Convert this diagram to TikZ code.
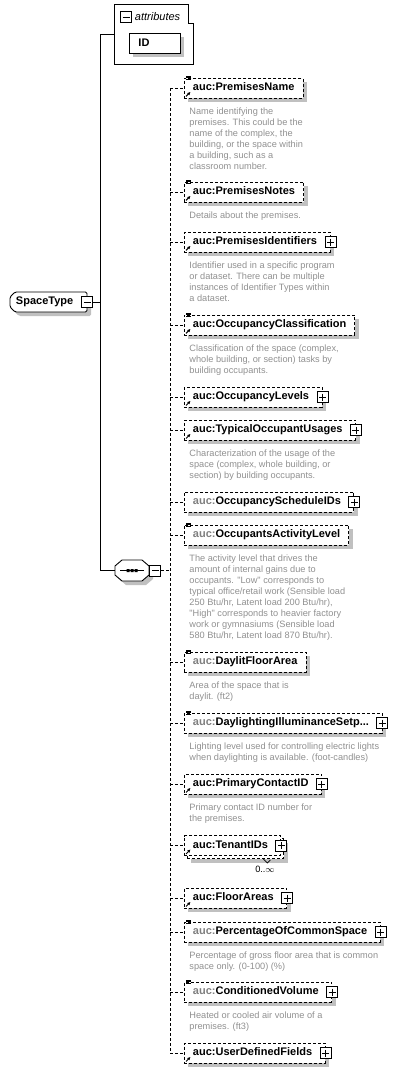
\documentclass[tikz,border=0pt]{standalone}
\usepackage{fontspec}
\setsansfont{Liberation Sans}
\usepackage{tikz}
\usetikzlibrary{arrows.meta}
\usetikzlibrary{shadows}
\definecolor{shadowgray}{RGB}{192,192,192}
\definecolor{docgray}{RGB}{144,144,144}
\definecolor{pfxgray}{RGB}{128,128,128}
\newcommand{\pfx}{{\color{pfxgray}auc:}}

\begin{document}
\begin{tikzpicture}[x=1pt,y=-1pt,line width=0.9pt,
    shade4/.style={drop shadow={shadow xshift=4pt,shadow yshift=-4pt,opacity=1,fill=shadowgray}},
    namefont/.style={font=\sffamily\fontsize{11}{13}\selectfont\bfseries},
    elbase/.style={draw,dash pattern=on 3pt off 2pt,fill=white,anchor=west,minimum height=20pt,
      inner xsep=8.5pt,inner ysep=0pt,text height=8pt,text depth=2.5pt,namefont},
    elem/.style={elbase,shade4},
    doc/.style={anchor=north west,align=left,inner sep=0pt,text=docgray,font=\sffamily\fontsize{9.2}{11}\selectfont},
    plusbox/.style={draw,solid,fill=white,line width=1pt,minimum size=11pt,inner sep=0pt,
      path picture={\draw[line width=0.9pt] ([xshift=2pt]path picture bounding box.west) -- ([xshift=-2pt]path picture bounding box.east)
        ([yshift=-2pt]path picture bounding box.north) -- ([yshift=2pt]path picture bounding box.south);}},
    minusbox/.style={draw,solid,fill=white,line width=1pt,minimum size=11pt,inner sep=0pt,
      path picture={\draw[line width=0.9pt] ([xshift=2pt]path picture bounding box.west) -- ([xshift=-2pt]path picture bounding box.east);}},
    link/.style={dash pattern=on 3pt off 2pt},
    docmark/.style={line width=0.75pt},
    refmark/.style={line width=1pt,-{Latex[length=3.2pt,width=3.4pt]}}]
  \useasboundingbox (0,0) rectangle (400,1073);
  % attributes
  \node[minimum width=78pt,minimum height=59pt] (attr) at (154,34.5) {};
  \draw[fill=white] (attr.north west) -- ([xshift=-5pt]attr.north east) -- ([xshift=-5pt,yshift=-19pt]attr.north east)
    -- ([yshift=-19pt]attr.north east) -- (attr.south east) -- (attr.south west) -- cycle;
  \node[minusbox] (m0) at (126,17) {};
  \node[anchor=west,inner sep=0pt,font=\sffamily\itshape\fontsize{11}{13}\selectfont] (attrl) at (134.5,16.5) {attributes};
  \node[draw,fill=white,shade4,anchor=west,minimum height=20pt,text width=33pt,inner xsep=9pt,inner ysep=0pt,
    namefont] (id) at (129,43) {ID};
  % type and sequence
  \draw[fill=white,shade4,rounded corners=1.5pt] (15,292) -- (87,292) -- (87,312) -- (15,312) -- (10,307) -- (10,297) -- cycle;
  \node[minimum width=77pt,minimum height=20pt,text width=65pt,inner xsep=6pt,inner ysep=0pt,align=left,
    namefont] (st) at (48.5,302) {SpaceType};
  \node[minusbox] (m1) at (st.east) {};
  \draw[fill=white,shade4] (122,560) -- (142,560) -- (149,566) -- (149,575) -- (142,581) -- (122,581) -- (115,575) -- (115,566) -- cycle;
  \node[minimum width=34pt,minimum height=21pt,inner sep=0pt] (seq) at (132,570.5) {};
  \draw ([xshift=-12pt]seq.center) -- ([xshift=12pt]seq.center);
  \fill ([shift={(-5.5,-1.5)}]seq.center) rectangle +(3,3) ([shift={(-1.5,-1.5)}]seq.center) rectangle +(3,3)
    ([shift={(2.5,-1.5)}]seq.center) rectangle +(3,3);
  \node[minusbox,anchor=west] (m2) at (seq.east) {};
  \coordinate (ta) at (100,34.5);
  \coordinate (tb) at (100,302);
  \coordinate (tc) at (100,570.5);
  \coordinate (sx) at (170,0);
  \draw (ta) -- (attr.west);
  \draw (m1.east) -- (tb);
  \draw (ta) -- (tc) -- (seq.west);
  % elements
  \node[elem] (e1) at (184,88) {auc:PremisesName};
  \node[elem] (e2) at (184,192) {auc:PremisesNotes};
  \node[elem] (e3) at (184,242) {auc:PremisesIdentifiers\kern4.5pt};
  \node[elem] (e4) at (184,325) {auc:OccupancyClassification};
  \node[elem] (e5) at (184,397) {auc:OccupancyLevels\kern4.5pt};
  \node[elem] (e6) at (184,430) {auc:TypicalOccupantUsages\kern4.5pt};
  \node[elem] (e7) at (184,502) {\pfx OccupancyScheduleIDs\kern4.5pt};
  \node[elem] (e8) at (184,535) {\pfx OccupantsActivityLevel};
  \node[elem] (e9) at (184,662) {\pfx DaylitFloorArea};
  \node[elem] (e10) at (184,723) {\pfx DaylightingIlluminanceSetp...\kern4.5pt};
  \node[elem] (e11) at (184,784) {auc:PrimaryContactID\kern4.5pt};
  \node[elbase,drop shadow={shadow xshift=7pt,shadow yshift=-7pt,opacity=1,fill=shadowgray},
    copy shadow={shadow xshift=3pt,shadow yshift=-3pt,dash pattern=on 3pt off 2pt}] (e12) at (184,845.5) {auc:TenantIDs\kern4.5pt};
  \node[elem] (e13) at (184,898) {auc:FloorAreas\kern4.5pt};
  \node[elem] (e14) at (184,932) {\pfx PercentageOfCommonSpace\kern4.5pt};
  \node[elem] (e15) at (184,992) {\pfx ConditionedVolume\kern4.5pt};
  \node[elem] (e16) at (184,1053) {auc:UserDefinedFields\kern4.5pt};
  \node[plusbox] (p3) at (e3.east) {};
  \node[plusbox] (p5) at (e5.east) {};
  \node[plusbox] (p6) at (e6.east) {};
  \node[plusbox] (p7) at (e7.east) {};
  \node[plusbox] (p10) at (e10.east) {};
  \node[plusbox] (p11) at (e11.east) {};
  \node[plusbox] (p12) at (e12.east) {};
  \node[plusbox] (p13) at (e13.east) {};
  \node[plusbox] (p14) at (e14.east) {};
  \node[plusbox] (p15) at (e15.east) {};
  \node[plusbox] (p16) at (e16.east) {};
  \draw[line width=0.6pt] ([xshift=-18pt,yshift=-3pt]e12.south east) -- ++(4,4) -- ++(3,-3);
  \node[inner sep=0pt,font=\sffamily\fontsize{9.2}{11}\selectfont] (occ) at (265,869) {0..\(\infty\)};
  % icons
  \draw[docmark] ([shift={(2,-1.5)}]e1.north west) -- ++(4.5,0) ++(-4.5,1.6) -- ++(4.5,0) ++(-4.5,1.6) -- ++(4.5,0);
  \draw[docmark] ([shift={(2,-1.5)}]e2.north west) -- ++(4.5,0) ++(-4.5,1.6) -- ++(4.5,0) ++(-4.5,1.6) -- ++(4.5,0);
  \draw[docmark] ([shift={(2,-1.5)}]e4.north west) -- ++(4.5,0) ++(-4.5,1.6) -- ++(4.5,0) ++(-4.5,1.6) -- ++(4.5,0);
  \draw[docmark] ([shift={(2,-1.5)}]e8.north west) -- ++(4.5,0) ++(-4.5,1.6) -- ++(4.5,0) ++(-4.5,1.6) -- ++(4.5,0);
  \draw[docmark] ([shift={(2,-1.5)}]e9.north west) -- ++(4.5,0) ++(-4.5,1.6) -- ++(4.5,0) ++(-4.5,1.6) -- ++(4.5,0);
  \draw[docmark] ([shift={(2,-1.5)}]e10.north west) -- ++(4.5,0) ++(-4.5,1.6) -- ++(4.5,0) ++(-4.5,1.6) -- ++(4.5,0);
  \draw[docmark] ([shift={(2,-1.5)}]e14.north west) -- ++(4.5,0) ++(-4.5,1.6) -- ++(4.5,0) ++(-4.5,1.6) -- ++(4.5,0);
  \draw[docmark] ([shift={(2,-1.5)}]e15.north west) -- ++(4.5,0) ++(-4.5,1.6) -- ++(4.5,0) ++(-4.5,1.6) -- ++(4.5,0);
  \draw[refmark] ([shift={(2,-2)}]e1.south west) -- ++(4.5,-4.5);
  \draw[refmark] ([shift={(2,-2)}]e2.south west) -- ++(4.5,-4.5);
  \draw[refmark] ([shift={(2,-2)}]e3.south west) -- ++(4.5,-4.5);
  \draw[refmark] ([shift={(2,-2)}]e4.south west) -- ++(4.5,-4.5);
  \draw[refmark] ([shift={(2,-2)}]e5.south west) -- ++(4.5,-4.5);
  \draw[refmark] ([shift={(2,-2)}]e6.south west) -- ++(4.5,-4.5);
  \draw[refmark] ([shift={(2,-2)}]e11.south west) -- ++(4.5,-4.5);
  \draw[refmark] ([shift={(2,-2)}]e12.south west) -- ++(4.5,-4.5);
  \draw[refmark] ([shift={(2,-2)}]e13.south west) -- ++(4.5,-4.5);
  \draw[refmark] ([shift={(2,-2)}]e16.south west) -- ++(4.5,-4.5);
  % dashed links
  \draw[link] (e1.west -| sx) -- (e16.west -| sx);
  \draw[link] (m2.east) -- (m2.east -| sx);
  \draw[link] (e1.west -| sx) -- (e1.west);
  \draw[link] (e2.west -| sx) -- (e2.west);
  \draw[link] (e3.west -| sx) -- (e3.west);
  \draw[link] (e4.west -| sx) -- (e4.west);
  \draw[link] (e5.west -| sx) -- (e5.west);
  \draw[link] (e6.west -| sx) -- (e6.west);
  \draw[link] (e7.west -| sx) -- (e7.west);
  \draw[link] (e8.west -| sx) -- (e8.west);
  \draw[link] (e9.west -| sx) -- (e9.west);
  \draw[link] (e10.west -| sx) -- (e10.west);
  \draw[link] (e11.west -| sx) -- (e11.west);
  \draw[link] (e12.west -| sx) -- (e12.west);
  \draw[link] (e13.west -| sx) -- (e13.west);
  \draw[link] (e14.west -| sx) -- (e14.west);
  \draw[link] (e15.west -| sx) -- (e15.west);
  \draw[link] (e16.west -| sx) -- (e16.west);
  % documentation
  \node[doc] (d1) at ([shift={(5,8.5)}]e1.south west) {Name identifying the\\premises. This could be the\\name of the complex, the\\building, or the space within\\a building, such as a\\classroom number.};
  \node[doc] (d2) at ([shift={(5,8.5)}]e2.south west) {Details about the premises.};
  \node[doc] (d3) at ([shift={(5,8.5)}]e3.south west) {Identifier used in a specific program\\or dataset. There can be multiple\\instances of Identifier Types within\\a dataset.};
  \node[doc] (d4) at ([shift={(5,8.5)}]e4.south west) {Classification of the space (complex,\\whole building, or section) tasks by\\building occupants.};
  \node[doc] (d6) at ([shift={(5,8.5)}]e6.south west) {Characterization of the usage of the\\space (complex, whole building, or\\section) by building occupants.};
  \node[doc] (d8) at ([shift={(5,8.5)}]e8.south west) {The activity level that drives the\\amount of internal gains due to\\occupants. \textquotedbl Low\textquotedbl{} corresponds to\\typical office/retail work (Sensible load\\250 Btu/hr, Latent load 200 Btu/hr),\\\textquotedbl High\textquotedbl{} corresponds to heavier factory\\work or gymnasiums (Sensible load\\580 Btu/hr, Latent load 870 Btu/hr).};
  \node[doc] (d9) at ([shift={(5,8.5)}]e9.south west) {Area of the space that is\\daylit. (ft2)};
  \node[doc] (d10) at ([shift={(5,8.5)}]e10.south west) {Lighting level used for controlling electric lights\\when daylighting is available. (foot-candles)};
  \node[doc] (d11) at ([shift={(5,8.5)}]e11.south west) {Primary contact ID number for\\the premises.};
  \node[doc] (d14) at ([shift={(5,8.5)}]e14.south west) {Percentage of gross floor area that is common\\space only. (0-100) (\%)};
  \node[doc] (d15) at ([shift={(5,8.5)}]e15.south west) {Heated or cooled air volume of a\\premises. (ft3)};
\end{tikzpicture}
\end{document}
